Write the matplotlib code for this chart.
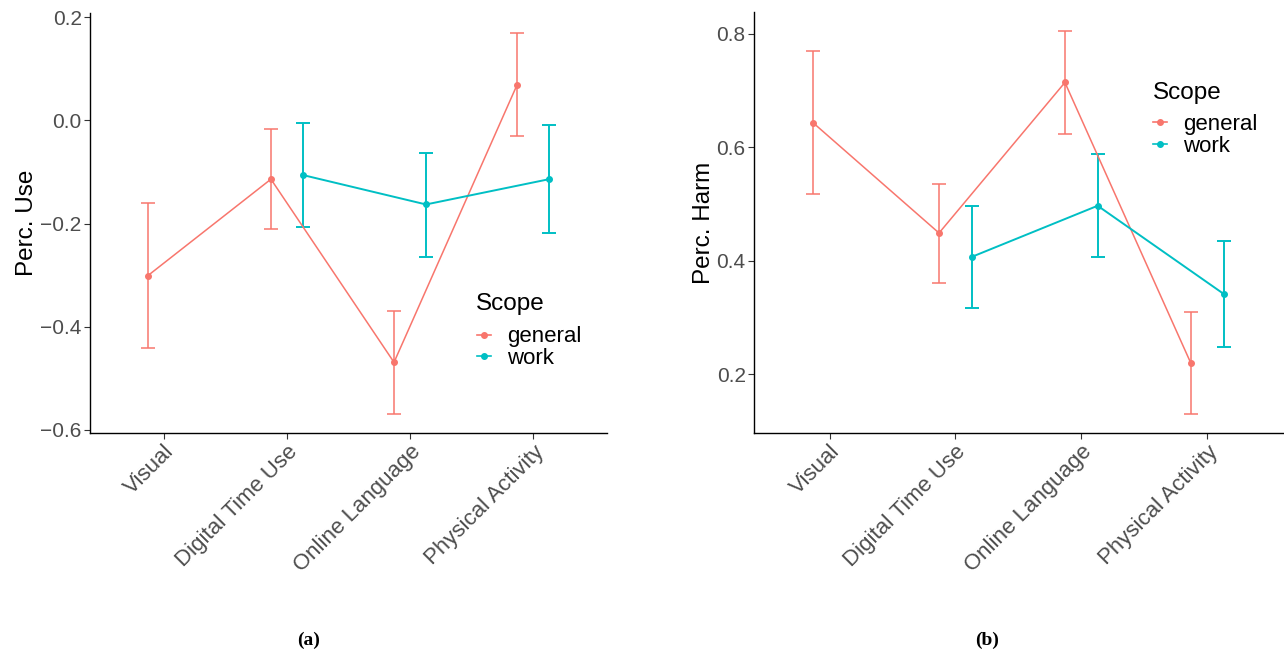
import numpy as np
import matplotlib as mpl
mpl.use('Agg')
import matplotlib.pyplot as plt
from matplotlib.lines import Line2D

categories = ['Visual', 'Digital Time Use', 'Online Language', 'Physical Activity']
scopes = ['general', 'work']

# panel (a): perceived use
use_general = [-0.301, -0.114, -0.469, 0.069]
use_general_lo = [-0.441, -0.211, -0.569, -0.031]
use_general_hi = [-0.160, -0.016, -0.369, 0.169]
use_work = [np.nan, -0.106, -0.163, -0.114]
use_work_lo = [np.nan, -0.207, -0.265, -0.218]
use_work_hi = [np.nan, -0.006, -0.063, -0.009]

# panel (b): perceived harm
harm_general = [0.643, 0.449, 0.714, 0.220]
harm_general_lo = [0.518, 0.361, 0.623, 0.131]
harm_general_hi = [0.770, 0.536, 0.804, 0.310]
harm_work = [np.nan, 0.407, 0.497, 0.342]
harm_work_lo = [np.nan, 0.317, 0.407, 0.248]
harm_work_hi = [np.nan, 0.497, 0.588, 0.435]

colors = {'general': '#F8766D', 'work': '#00BFC4'}
plt.rcParams['font.family'] = ['Liberation Sans', 'DejaVu Sans']

fig = plt.figure(figsize=(12.84, 6.53), dpi=100)
ax1 = fig.add_axes([0.0701, 0.3369, 0.4026, 0.6431])
ax2 = fig.add_axes([0.5872, 0.3369, 0.4118, 0.6447])

dodge = 0.13


def draw(ax, series, ylabel, yticks, ylim, labelpad, title_xy, legpos):
    x = np.arange(len(categories))
    for i, (name, mean, lo, hi) in enumerate(series):
        mean = np.array(mean, dtype=float)
        lo = np.array(lo, dtype=float)
        hi = np.array(hi, dtype=float)
        xs = x + (-dodge if i == 0 else dodge)
        lw = 1.1 if i == 0 else 1.4
        ok = ~np.isnan(mean)
        ax.plot(xs[ok], mean[ok], color=colors[name], lw=lw, marker='o',
                markersize=4, zorder=3)
        ax.errorbar(xs[ok], mean[ok], yerr=[mean[ok] - lo[ok], hi[ok] - mean[ok]],
                    fmt='none', ecolor=colors[name], elinewidth=lw, capsize=5,
                    capthick=lw, zorder=2)
    ax.set_xlim(-0.6, len(categories) - 0.4)
    ax.set_ylim(*ylim)
    ax.set_xticks(x)
    ax.set_xticklabels(categories, rotation=45, ha='right', va='top',
                       rotation_mode='anchor', fontsize=16, color='#4D4D4D')
    ax.set_yticks(yticks)
    ax.set_yticklabels(['%.1f' % t if t >= 0 else '\u2212%.1f' % -t for t in yticks],
                       fontsize=15, color='#4D4D4D')
    ax.tick_params(axis='both', length=4, width=0.8, color='#333333', pad=2)
    ax.set_ylabel(ylabel, fontsize=17.5, color='black', labelpad=labelpad)
    for s in ['top', 'right']:
        ax.spines[s].set_visible(False)
    for s in ['left', 'bottom']:
        ax.spines[s].set_linewidth(1.0)

    # legend: title drawn separately so the gap matches ggplot
    fig.text(title_xy[0], title_xy[1], 'Scope', fontsize=17.5, va='baseline')
    handles = [Line2D([], [], color=colors[n], marker='o', markersize=4, lw=1.2)
               for n in scopes]
    ax.legend(handles, scopes, loc='center left',
              bbox_to_anchor=legpos, bbox_transform=fig.transFigure,
              frameon=False, fontsize=16, borderpad=0.0, borderaxespad=0.0,
              handlelength=0.65, handletextpad=0.72, labelspacing=0.02)


draw(ax1, [('general', use_general, use_general_lo, use_general_hi),
           ('work', use_work, use_work_lo, use_work_hi)],
     'Perc. Use', [-0.6, -0.4, -0.2, 0.0, 0.2], (-0.606, 0.208), 2,
     (0.3707, 0.5253), (0.3715, 0.4678))
draw(ax2, [('general', harm_general, harm_general_lo, harm_general_hi),
           ('work', harm_work, harm_work_lo, harm_work_hi)],
     'Perc. Harm', [0.2, 0.4, 0.6, 0.8], (0.097, 0.838), 1,
     (0.898, 0.8484), (0.898, 0.7925))

fig.text(0.240, 0.020, '(a)', fontsize=14, fontweight='bold',
         family=['Liberation Serif', 'DejaVu Serif'], ha='center', va='center')
fig.text(0.769, 0.020, '(b)', fontsize=14, fontweight='bold',
         family=['Liberation Serif', 'DejaVu Serif'], ha='center', va='center')

fig.savefig('out.png', dpi=100)
